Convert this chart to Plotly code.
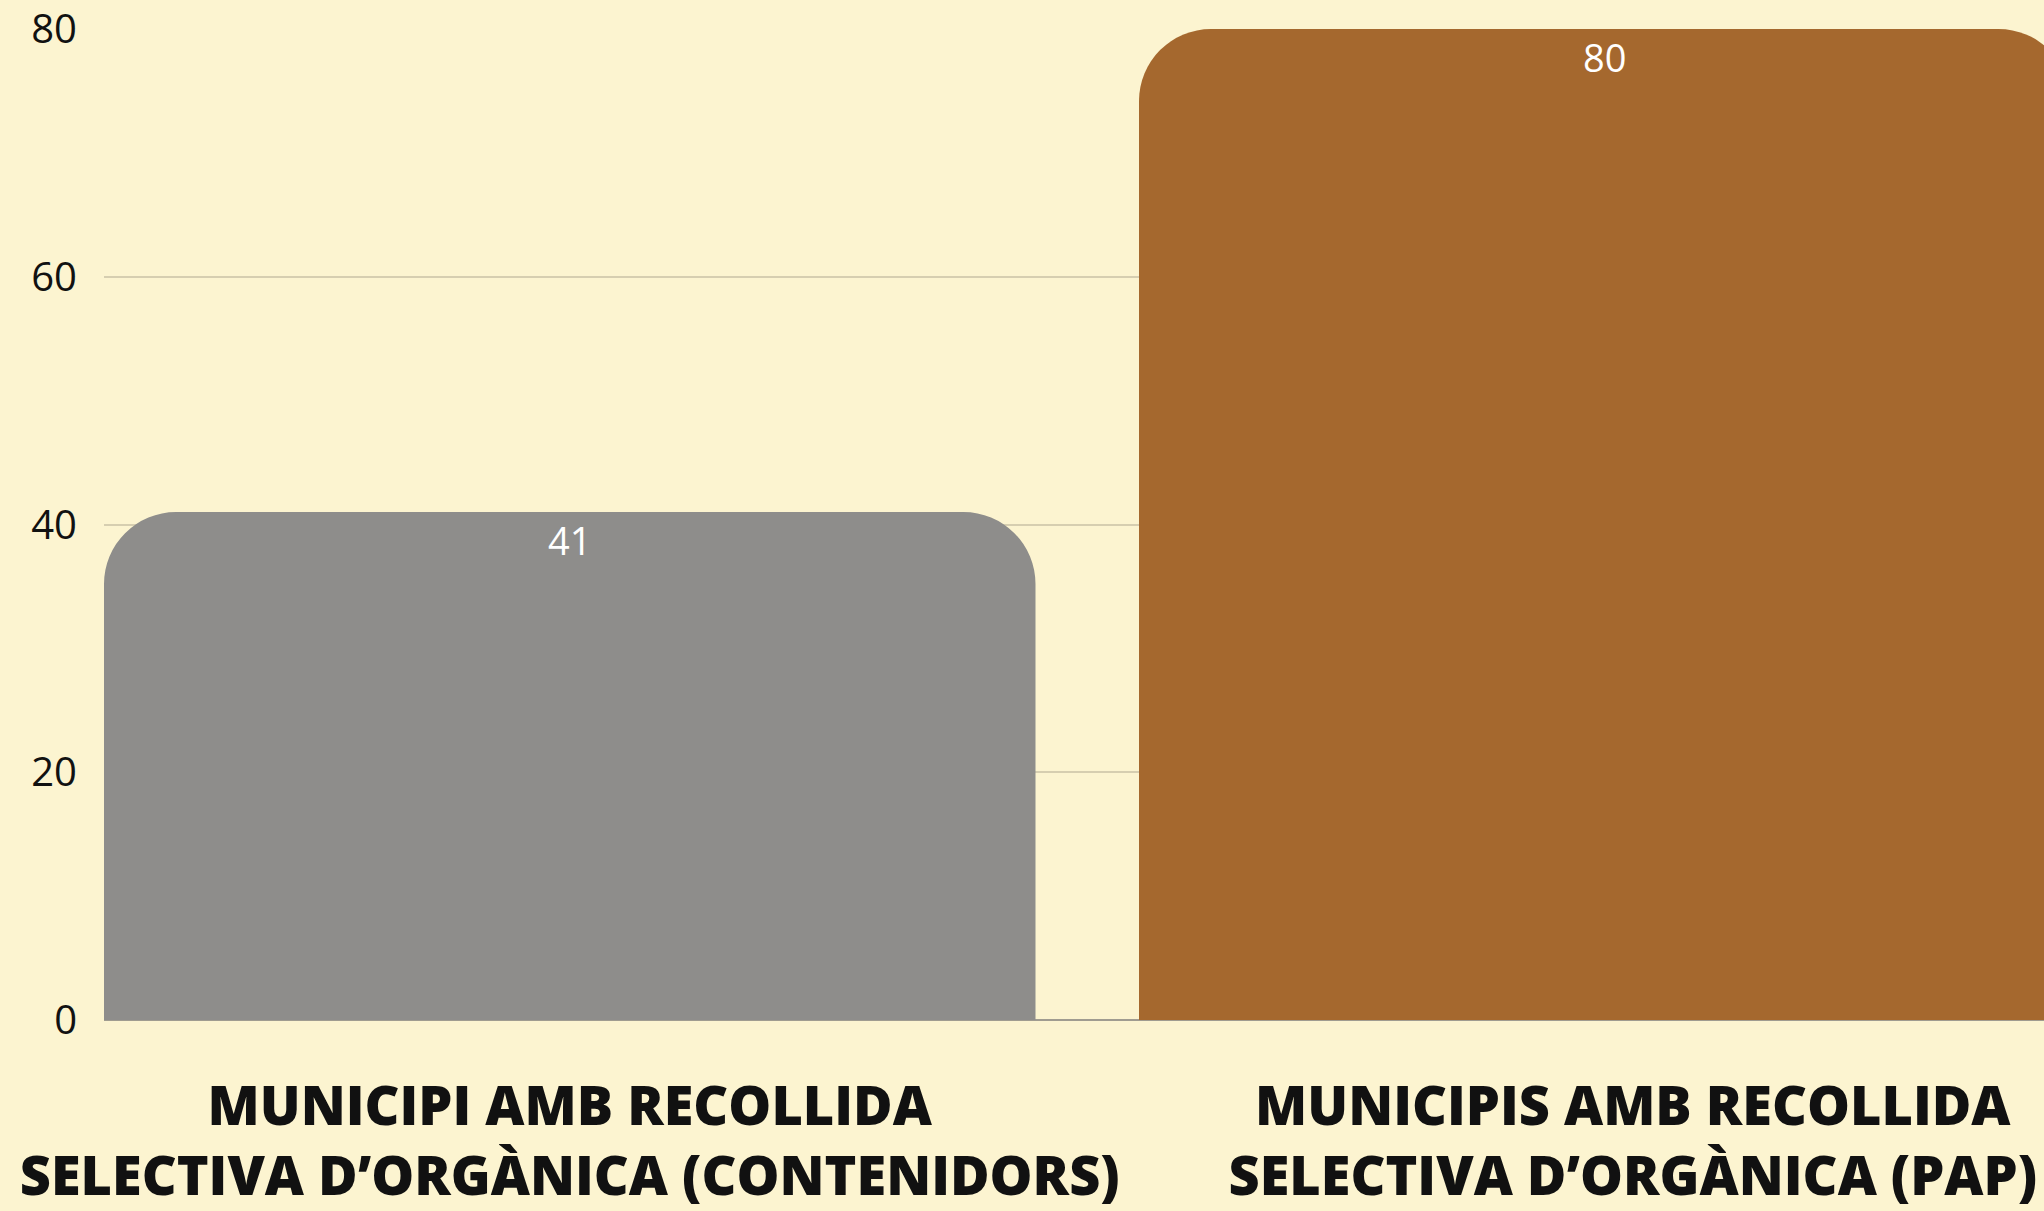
import plotly.graph_objects as go

NB = "\u00a0" * 4
categories = [
    "MUNICIPI AMB RECOLLIDA<br>SELECTIVA D\u2019ORG\u00c0NICA (CONTENIDORS)",
    NB + "MUNICIPIS AMB RECOLLIDA<br>" + NB + "SELECTIVA D\u2019ORG\u00c0NICA (PAP)",
]
values = [41, 80]
colors = ["#8E8D8B", "#A5682E"]
y_ticks = [0, 20, 40, 60, 80]

fig = go.Figure()
fig.add_trace(
    go.Bar(
        x=categories,
        y=values,
        marker=dict(color=colors, line=dict(width=0)),
        hoverinfo="y",
    )
)
# value labels just below the top of each bar
fig.add_trace(
    go.Scatter(
        x=categories,
        y=values,
        mode="markers+text",
        marker=dict(size=22, opacity=0),
        text=[str(v) for v in values],
        textposition="bottom center",
        textfont=dict(family="Open Sans", size=38, color="#FFFFFF"),
        hoverinfo="skip",
        cliponaxis=False,
    )
)

fig.update_layout(
    width=2044,
    height=1211,
    margin=dict(l=104, r=0, t=29, b=185, pad=0),
    paper_bgcolor="#FCF4D0",
    plot_bgcolor="#FCF4D0",
    bargap=0.1,
    barcornerradius=72,
    showlegend=False,
    font=dict(family="Open Sans", color="#111111"),
)

fig.update_xaxes(
    range=[-0.45, 1.4244],
    showgrid=False,
    showline=False,
    ticks="",
    tickfont=dict(family="Open Sans", size=54, color="#111111", weight=800),
    ticklabelstandoff=50,
)

fig.update_yaxes(
    range=[0, 80],
    tickvals=y_ticks,
    ticktext=[str(t) for t in y_ticks],
    showgrid=True,
    gridcolor="#D6CEB0",
    gridwidth=1.5,
    zeroline=True,
    zerolinecolor="#A09C90",
    zerolinewidth=1.5,
    showline=False,
    ticks="",
    tickfont=dict(family="Open Sans", size=40, color="#111111"),
    ticklabelstandoff=26,
)

fig.write_html(
    "out.html",
    config={"displayModeBar": False},
    post_script="document.body.style.margin='0';document.body.style.background='#FCF4D0';document.body.style.overflow='hidden';",
)
